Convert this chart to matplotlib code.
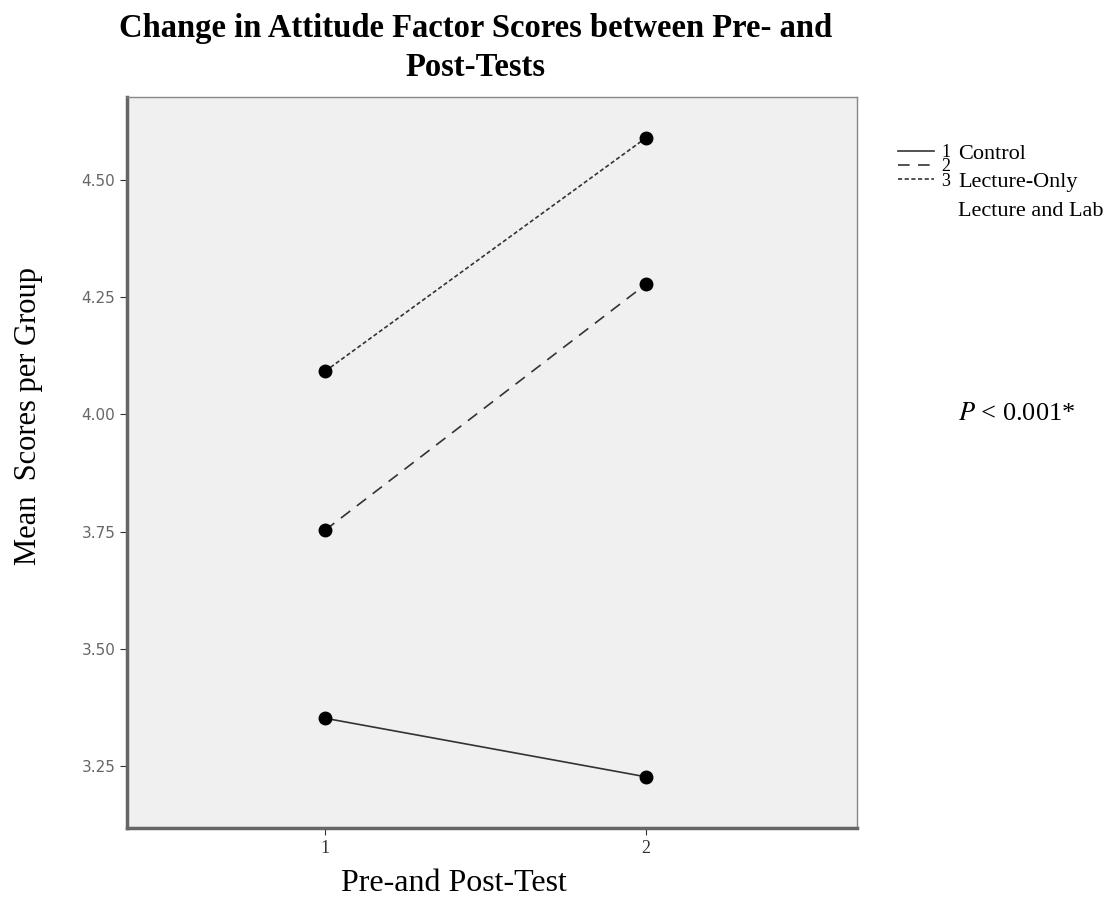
import matplotlib
matplotlib.use("Agg")
import matplotlib.pyplot as plt

# pre / post test
tests = [1, 2]
control = [3.352, 3.227]
lecture_only = [3.753, 4.278]
lecture_lab = [4.092, 4.590]
group_nums = ["1", "2", "3"]
groups = ["Control", "Lecture-Only", "Lecture and Lab"]
yticks = [3.25, 3.50, 3.75, 4.00, 4.25, 4.50]

serif = "Liberation Serif"
plt.rcParams["mathtext.fontset"] = "stix"

fig = plt.figure(figsize=(11.18, 8.98), dpi=100)
ax = fig.add_axes([0.1136, 0.078, 0.653, 0.814])
ax.set_facecolor("#f0f0f0")

l1, = ax.plot(tests, control, color="#333333", lw=1.2, ls="-")
l2, = ax.plot(tests, lecture_only, color="#333333", lw=1.2, ls=(0, (7, 5)))
l3, = ax.plot(tests, lecture_lab, color="#333333", lw=1.2, ls=(0, (2.5, 1.5)))
for s in (control, lecture_only, lecture_lab):
    ax.plot(tests, s, "o", color="black", ms=9, zorder=3)

ax.set_xlim(0.383, 2.657)
ax.set_ylim(3.118, 4.677)
ax.set_xticks(tests)
ax.set_xticklabels(["1", "2"], fontfamily=serif, fontsize=13, color="#333333")
ax.set_yticks(yticks)
ax.set_yticklabels(["%.2f" % v for v in yticks], fontsize=11, color="#666666")
ax.tick_params(direction="out", length=5, color="#333333")
ax.tick_params(axis="x", pad=4)

for side in ["left", "bottom"]:
    ax.spines[side].set_linewidth(2.5)
    ax.spines[side].set_color("#666666")
for side in ["top", "right"]:
    ax.spines[side].set_linewidth(1)
    ax.spines[side].set_color("#888888")

ax.set_ylabel("Mean  Scores per Group", fontfamily=serif, fontsize=22)
ax.yaxis.set_label_coords(-0.115, 0.564)
ax.set_xlabel("Pre-and Post-Test", fontfamily=serif, fontsize=23)
ax.xaxis.set_label_coords(0.448, -0.056)

fig.suptitle("Change in Attitude Factor Scores between Pre- and\nPost-Tests",
             fontfamily=serif, fontweight="bold", fontsize=23.5, x=0.425, y=0.985,
             linespacing=1.3)

# SPSS-style legend: short handles with numbers, names set apart
leg = fig.legend([l1, l2, l3], group_nums, loc="upper left", bbox_to_anchor=(0.803, 0.8397),
                 frameon=False, prop={"family": serif, "size": 13},
                 handlelength=2.0, handletextpad=0.4, labelspacing=-0.15,
                 borderpad=0, borderaxespad=0)
for i, name in enumerate(groups):
    fig.text(0.857, 0.8285 - i * 0.032, name, fontfamily=serif, fontsize=16,
             va="center")

fig.text(0.857, 0.532, "$P$ < 0.001*", fontfamily=serif, fontsize=19)

fig.savefig("out.png", dpi=100, facecolor="white")
